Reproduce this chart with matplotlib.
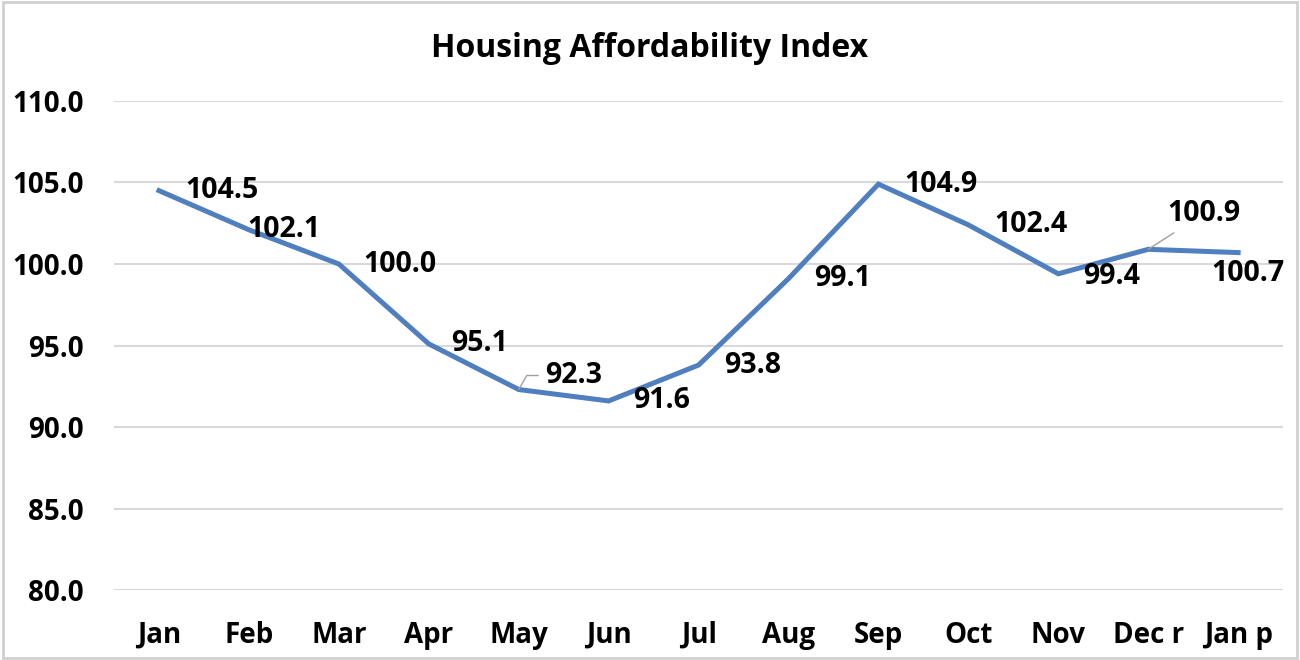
import matplotlib
matplotlib.use("Agg")
from matplotlib import pyplot as plt
from matplotlib.patches import Rectangle

months = ["Jan", "Feb", "Mar", "Apr", "May", "Jun", "Jul", "Aug", "Sep", "Oct", "Nov", "Dec r", "Jan p"]
index_values = [104.5, 102.1, 100.0, 95.1, 92.3, 91.6, 93.8, 99.1, 104.9, 102.4, 99.4, 100.9, 100.7]
y_ticks = [80.0, 85.0, 90.0, 95.0, 100.0, 105.0, 110.0]

# label offsets in pixels (Excel-style placement)
label_offsets = [(63, 0), (35, 0), (61, -1), (51, 0), (55, 14), (53, 0), (54, 0),
                 (54, 0), (63, 0), (63, 0), (53, -3), (56, 36), (10, -21)]
# leader line style per label (None = no leader)
leaders = [None, None, None, None, "angle,angleA=0,angleB=60,rad=0", None, None,
           None, None, None, None, "arc3", None]

plt.rcParams['font.family'] = ['Open Sans', 'DejaVu Sans']
plt.rcParams['font.weight'] = 'bold'

fig = plt.figure(figsize=(13, 6.6), dpi=100)
ax = fig.add_axes([0.0877, 0.106, 0.8993, 0.741])

x = list(range(len(months)))
ax.plot(x, index_values, color='#4F7FBE', linewidth=3.6, solid_joinstyle='miter', zorder=3)

for i, v in enumerate(index_values):
    dx, dy = label_offsets[i]
    arrow = None
    if leaders[i]:
        arrow = dict(arrowstyle='-', color='#a0a0a0', lw=1, shrinkA=3, shrinkB=0,
                     connectionstyle=leaders[i])
    ax.annotate(f"{v:.1f}", xy=(i, v), xytext=(dx, dy), textcoords='offset pixels',
                ha='center', va='center', fontsize=20.5, fontweight='bold', color='black',
                arrowprops=arrow, zorder=4)

ax.set_xlim(-0.5, len(months) - 0.5)
ax.set_ylim(80, 110)
ax.set_yticks(y_ticks)
ax.set_yticklabels([f"{t:.1f}" for t in y_ticks])
ax.set_xticks(x)
ax.set_xticklabels(months)
ax.tick_params(axis='both', length=0, labelsize=20)
ax.tick_params(axis='y', pad=22)
ax.tick_params(axis='x', pad=22)
for lab in ax.get_xticklabels() + ax.get_yticklabels():
    lab.set_fontweight('bold')
ax.grid(axis='y', color='#d9d9d9', linewidth=1.5)
ax.set_axisbelow(True)
for s in ax.spines.values():
    s.set_visible(False)

fig.text(0.5, 0.927, "Housing Affordability Index", ha='center', va='center', fontsize=23, fontweight='bold')
fig.patches.append(Rectangle((0.002, 0.003), 0.996, 0.994, transform=fig.transFigure,
                             fill=False, edgecolor='#d0d0d0', linewidth=2))

fig.savefig("out.png", dpi=100)
